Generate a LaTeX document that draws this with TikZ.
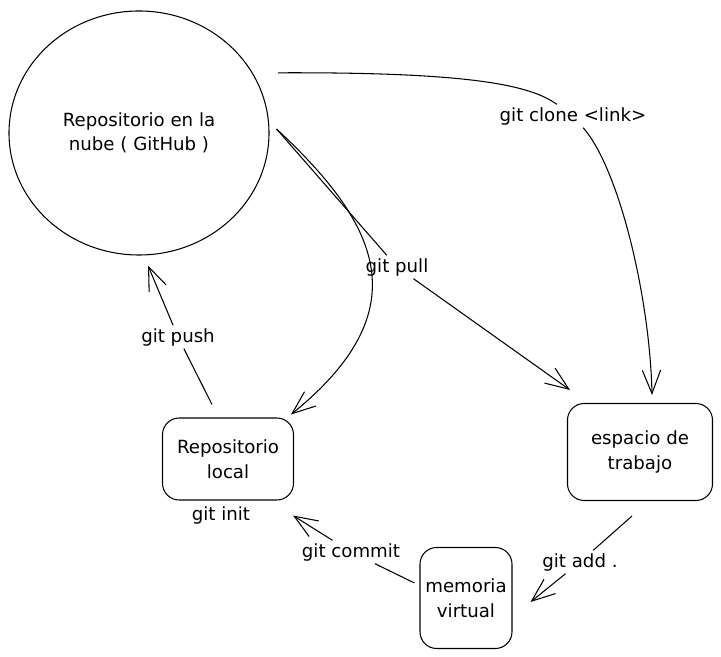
\documentclass[tikz,border=0pt]{standalone}
\usepackage{fontspec}
\setmainfont{DejaVu Sans}
\usepackage{tikz}
\usetikzlibrary{positioning,shapes,arrows.meta,calc}

\begin{document}
\begin{tikzpicture}[
        x=0.03cm, y=-0.03cm,
        line width=0.9pt,
        node distance=7mm,
        title/.style={font=\fontsize{15.5}{21}\selectfont, align=center},
        tag/.style={font=\fontsize{15.5}{18}\selectfont, inner sep=2pt},
        boxtag/.style={rectangle, draw, rounded corners=5mm, title},
        arr/.style={-{Straight Barb[length=7mm,width=5.5mm]}}
    ]
        \useasboundingbox (0,0) rectangle (721,657);

        % Cloud repository
        \node (repo) at (139,133) [ellipse,draw,minimum width=7.8cm,minimum height=7.32cm,inner sep=0pt,title] {Repositorio en la\\nube ( GitHub )};

        % Local side
        \node (local) at (228,459) [boxtag,minimum width=3.93cm,minimum height=2.46cm] {Repositorio\\local};
            \node (init) at (221,515) [tag] {git init};
        \node (mem) at (466,598) [boxtag,minimum width=2.76cm,minimum height=3.03cm] {memoria\\virtual};
        \node (ws) at (640,452) [boxtag,minimum width=4.35cm,minimum height=2.91cm] {espacio de\\trabajo};

        % Labels
        \node (clone) at (573,116) [tag] {git clone <link>};
        \node (pull) at (397,267) [tag] {git pull};
        \node (push) at (178,337) [tag] {git push};
        \node (commit) at (351,552) [tag] {git commit};
        \node (add) at (580,562) [tag] {git add .};

        \coordinate (fork) at ($(repo.east)+(7,-4)$);

        % Arrows
        \draw ($(repo.30)+(28,4)$) .. controls (470,72) and (530,85) .. (clone);
        \draw[arr] (clone) .. controls (620,170) and (650,300) .. ($(ws.north)+(12,-8)$);
        \draw (fork) -- (pull);
        \draw[arr] (pull) -- ($(ws.north west)+(3,-13)$);
        \draw[arr] (fork) .. controls (380,225) and (420,310) .. ($(local.north east)+(-3,-3)$);
        \draw ($(local.north)+(-16,-13)$) -- (push);
        \draw[arr] (push) -- ($(repo.south)+(9,10)$);
        \draw ($(mem.west)+(-5,-15)$) -- (commit);
        \draw[arr] (commit) -- ($(local.south east)+(-1,15)$);
        \draw ($(ws.south)+(-8,15)$) -- (add);
        \draw[arr] (add) -- ($(mem.east)+(18,4)$);
    \end{tikzpicture}
\end{document}
